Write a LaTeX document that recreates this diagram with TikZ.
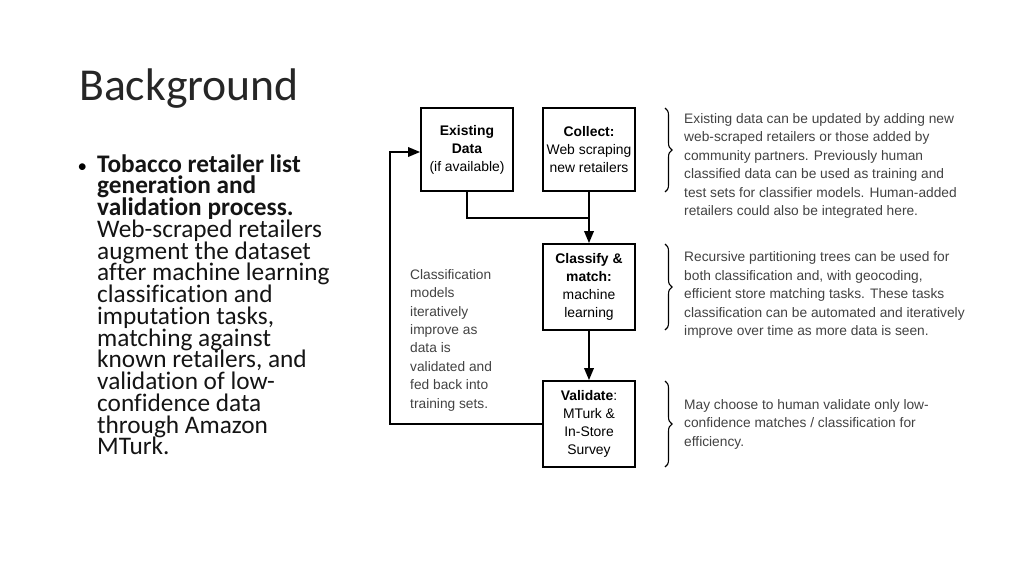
\documentclass[tikz,border=0pt]{standalone}
\usepackage{fontspec}
\setmainfont{Carlito}[Ligatures=NoCommon]
\newfontfamily\arial{Liberation Sans}
\usetikzlibrary{arrows.meta,decorations.pathreplacing}
\definecolor{titlegray}{RGB}{38,38,38}
\definecolor{notegray}{RGB}{66,66,66}
\newcommand\myBulletFont{\fontsize{25.3}{21.75}\selectfont\lineskiplimit=-100pt\relax}
\newcommand\firstRule[1]{\rule{0pt}{#1pt}}
\tikzset{
  box/.style={draw=black, line width=1.8pt, minimum width=92pt, inner sep=0pt, align=center,
    font=\arial\fontsize{13.9}{18}\selectfont, text=black},
  flow/.style={line width=1.8pt, -{Triangle[length=12pt,width=9.5pt]}},
  plain/.style={line width=1.8pt},
  note/.style={anchor=north west, inner sep=0pt, align=left, text=notegray,
    font=\arial\fontsize{13.75}{18.4}\selectfont},
  curly/.style={draw=black, line width=1.1pt, decorate, decoration={brace, amplitude=7pt}}
}
\begin{document}
\begin{tikzpicture}[x=1pt,y=-1pt]
\useasboundingbox (0,0) rectangle (1024,576);
\node[anchor=base west, inner sep=0pt, text=titlegray, font=\fontsize{45.7}{50}\selectfont] (title) at (79,100) {Background};
\node[anchor=base west, inner sep=0pt, font=\fontsize{19}{19}\selectfont] (bullet) at (77.5,172) {•};
\node[anchor=north west, inner sep=0pt, align=left, text={rgb,255:red,20;green,20;blue,20}, font=\myBulletFont] (btext) at (97,152) {\firstRule{20}\textbf{Tobacco retailer list}\\\textbf{generation and}\\\textbf{validation process.}\\Web-scraped retailers\\augment the dataset\\after machine learning\\classification and\\imputation tasks,\\matching against\\known retailers, and\\validation of low-\\confidence data\\through Amazon\\MTurk.};

\node[box, minimum height=83pt] (exist) at (467,149.5) {\textbf{Existing}\\\textbf{Data}\\(if available)};
\node[box, minimum height=83pt] (collect) at (589,149.5) {\textbf{Collect:}\\Web scraping\\new retailers};
\node[box, minimum height=86pt] (classify) at (589,287) {\textbf{Classify \&}\\\textbf{match:}\\machine\\learning};
\node[box, minimum height=86pt] (validate) at (589,424) {\textbf{Validate}:\\MTurk \&\\In-Store\\Survey};

\coordinate (join) at (589,218);
\coordinate (fb1) at (390,424);
\coordinate (fb2) at (390,152);
\draw[plain] (exist.south) |- (join);
\draw[flow] (collect.south) -- (classify.north);
\draw[flow] (classify.south) -- (validate.north);
\draw[flow] (validate.west) -- (fb1) -- (fb2) -- (exist.west |- fb2);

\node[note] (mid) at (410,267) {\firstRule{12}Classification\\models\\iteratively\\improve as\\data is\\validated and\\fed back into\\training sets.};

\draw[curly] (665,108) -- (665,192);
\draw[curly] (665,244) -- (665,330);
\draw[curly] (665,381) -- (665,467);

\node[note] (n1) at (684,111.3) {\firstRule{12}Existing data can be updated by adding new\\web-scraped retailers or those added by\\community partners. Previously human\\classified data can be used as training and\\test sets for classifier models. Human-added\\retailers could also be integrated here.};
\node[note] (n2) at (684,249.7) {\firstRule{12}Recursive partitioning trees can be used for\\both classification and, with geocoding,\\efficient store matching tasks. These tasks\\classification can be automated and iteratively\\improve over time as more data is seen.};
\node[note] (n3) at (684,397.3) {\firstRule{12}May choose to human validate only low-\\confidence matches / classification for\\efficiency.};
\end{tikzpicture}
\end{document}
